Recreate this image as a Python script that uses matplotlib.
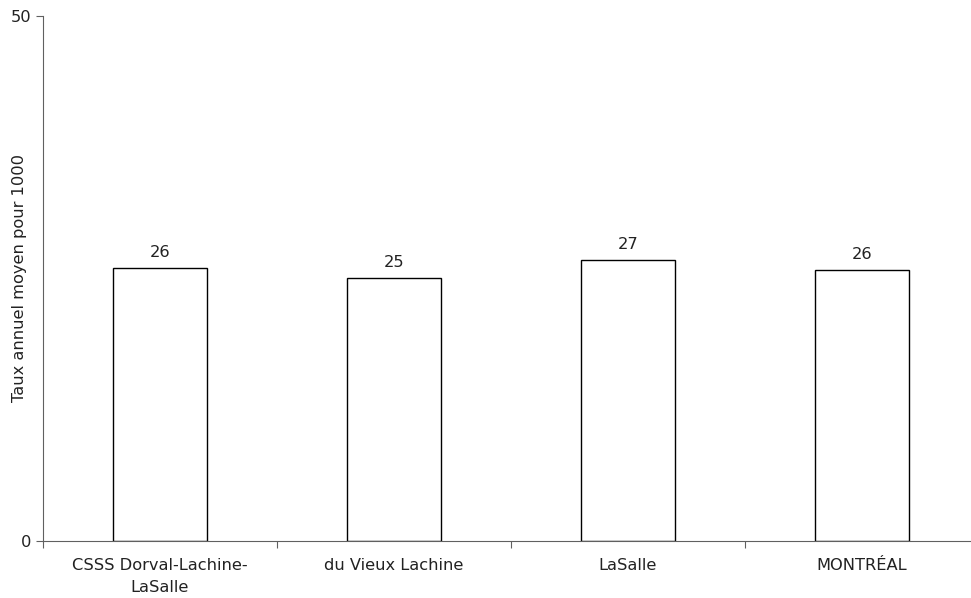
import numpy as np
import matplotlib.pyplot as plt

plt.rcParams["font.family"] = ["DejaVu Sans"]

categories = ["CSSS Dorval-Lachine-\nLaSalle", "du Vieux Lachine", "LaSalle", "MONTRÉAL"]
taux = [26.0, 25.05, 26.8, 25.85]

fs = 11.7
fig = plt.figure(figsize=(9.71, 5.98), dpi=100)
ax = fig.add_axes([43 / 971, 57 / 598, 936 / 971, 525 / 598])

x = np.arange(len(categories))
ax.bar(x, taux, width=0.4, color="white", edgecolor="black", linewidth=1.0)

for xi, v in zip(x, taux):
    ax.annotate(f"{round(v)}", (xi, v), xytext=(0, 5.5), textcoords="offset points",
                ha="center", va="bottom", fontsize=fs, color="#222222")

ax.set_xlim(-0.5, 3.5)
ax.set_ylim(0, 50)
ax.set_yticks([0, 50])
ax.set_xticks(np.arange(-0.5, 4.0, 1.0))
ax.set_xticklabels([])
ax.set_xticks(x, minor=True)
ax.set_xticklabels(categories, minor=True, fontsize=fs, color="#222222", linespacing=1.6)
ax.tick_params(axis="x", which="minor", length=0, pad=12)
ax.tick_params(axis="x", which="major", length=5, color="#606060")
ax.tick_params(axis="y", length=5, color="#606060", labelsize=fs, labelcolor="#222222")

for s in ["top", "right"]:
    ax.spines[s].set_visible(False)
for s in ["left", "bottom"]:
    ax.spines[s].set_color("#606060")

fig.text(20 / 971, 1 - 278 / 598, "Taux annuel moyen pour 1000", rotation=90,
         ha="center", va="center", fontsize=fs, color="#222222")

fig.savefig("out.png", dpi=100)
